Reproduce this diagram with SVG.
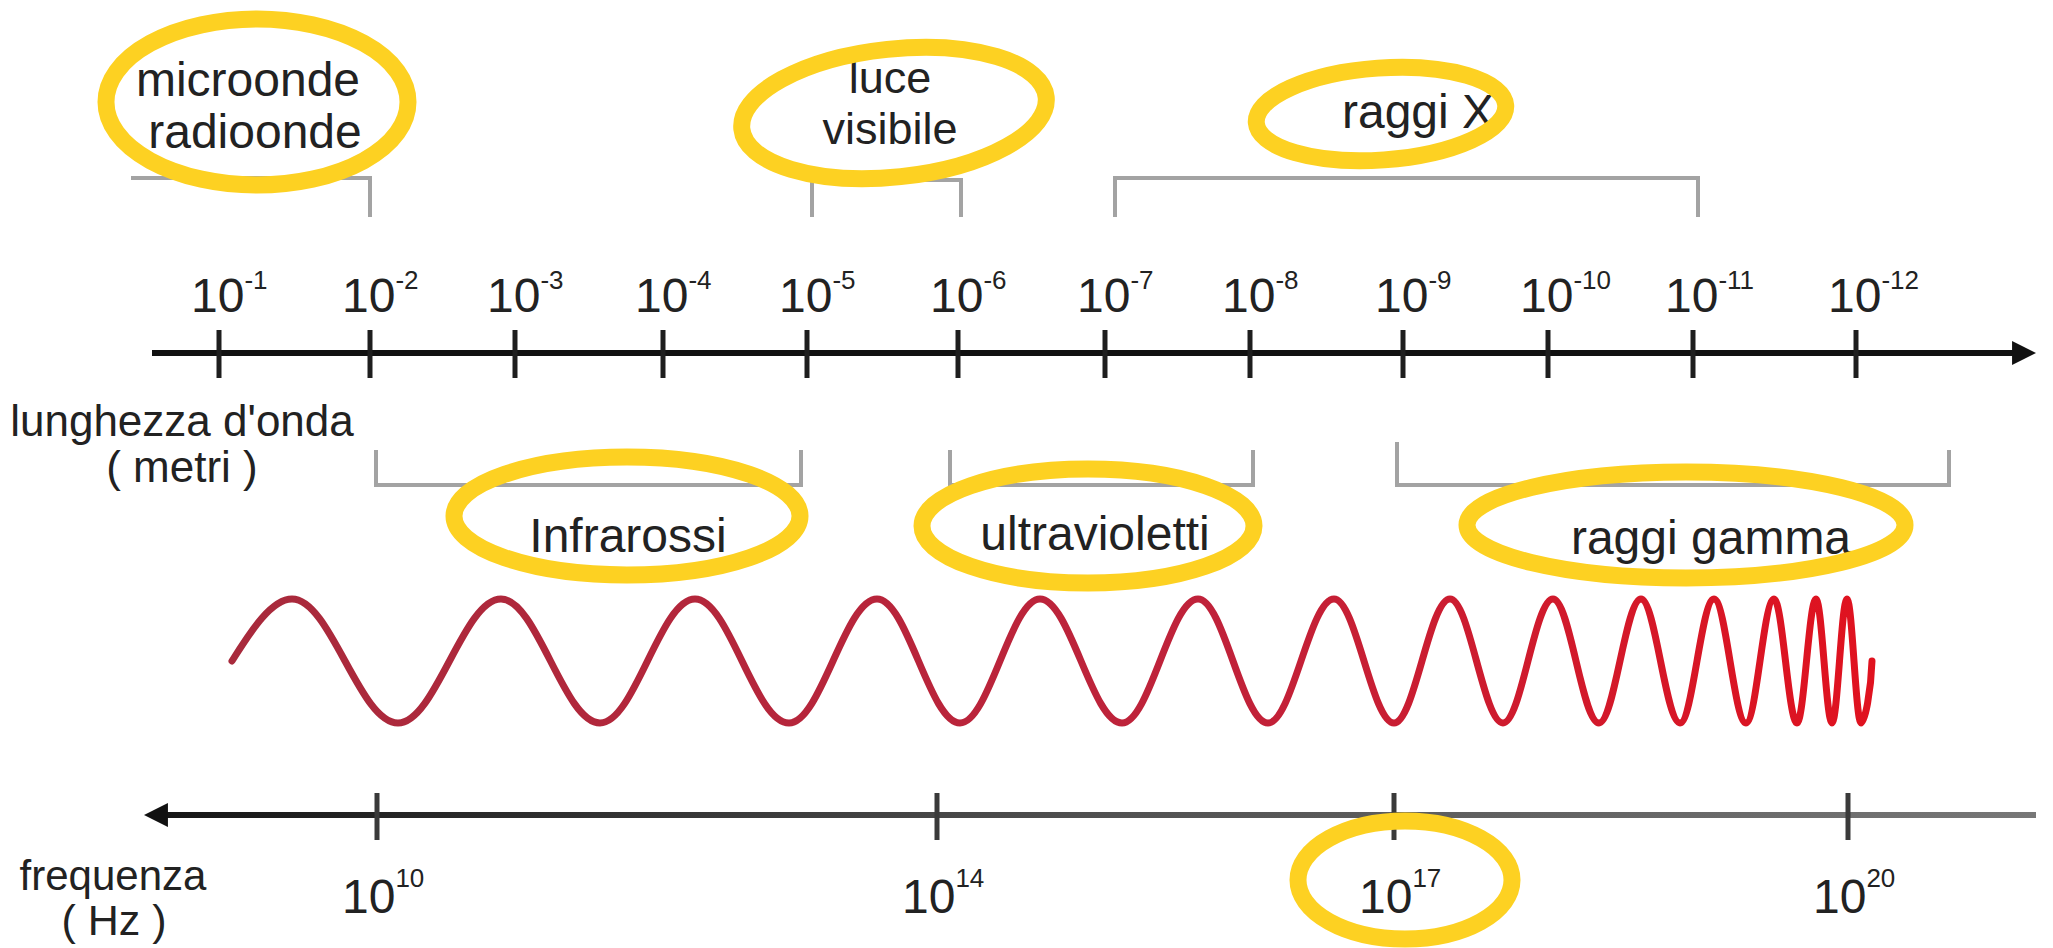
<svg xmlns="http://www.w3.org/2000/svg" width="2053" height="948" viewBox="0 0 2053 948">
<style>
.t{font-family:"Liberation Sans",Arial,sans-serif;fill:#222}
.lbl{font-size:48px}
.sup{font-size:26px}
.mid{text-anchor:middle}
.br{fill:none;stroke:#a3a3a3;stroke-width:4}
.hl{fill:none;stroke:#FDD122;stroke-width:17}
.tk{stroke:#1e1e1e;stroke-width:5}
.tkb{stroke:#3a3a3a;stroke-width:5}
</style>
<defs>
<marker id="arr" viewBox="0 0 10 10" refX="3.3" refY="5" markerWidth="24" markerHeight="24" markerUnits="userSpaceOnUse" orient="auto">
<path d="M0,0 L10,5 L0,10 z" fill="#111"/>
</marker>
<linearGradient id="axg" gradientUnits="userSpaceOnUse" x1="143" y1="0" x2="2036" y2="0">
<stop offset="0" stop-color="#151515"/>
<stop offset="0.5" stop-color="#505050"/>
<stop offset="1" stop-color="#777"/>
</linearGradient>
<linearGradient id="wg" gradientUnits="userSpaceOnUse" x1="232" y1="0" x2="1872" y2="0">
<stop offset="0" stop-color="#a82a3c"/>
<stop offset="0.6" stop-color="#c0223a"/>
<stop offset="1" stop-color="#e0121f"/>
</linearGradient>
</defs>
<rect width="2053" height="948" fill="#fff"/>

<g id="connectors">
<path class="br" d="M131,178 H370 V217"/>
<path class="br" d="M812,217 V180 H961 V217"/>
<path class="br" d="M1115,217 V178 H1698 V217"/>
<path class="br" d="M376,450 V485 H801 V450"/>
<path class="br" d="M950,450 V485 H1253 V450"/>
<path class="br" d="M1397,442 V485 H1949 V450"/>
</g>

<g id="axis-wavelength">
<line x1="152" y1="353" x2="2020" y2="353" stroke="#111" stroke-width="6" marker-end="url(#arr)"/>
<g class="tk">
<line x1="219" y1="330" x2="219" y2="378"/>
<line x1="370" y1="330" x2="370" y2="378"/>
<line x1="515" y1="330" x2="515" y2="378"/>
<line x1="663" y1="330" x2="663" y2="378"/>
<line x1="807" y1="330" x2="807" y2="378"/>
<line x1="958" y1="330" x2="958" y2="378"/>
<line x1="1105" y1="330" x2="1105" y2="378"/>
<line x1="1250" y1="330" x2="1250" y2="378"/>
<line x1="1403" y1="330" x2="1403" y2="378"/>
<line x1="1548" y1="330" x2="1548" y2="378"/>
<line x1="1693" y1="330" x2="1693" y2="378"/>
<line x1="1856" y1="330" x2="1856" y2="378"/>
</g>
<g class="t lbl">
<text x="191" y="312">10<tspan class="sup" dy="-23">-1</tspan></text>
<text x="342" y="312">10<tspan class="sup" dy="-23">-2</tspan></text>
<text x="487" y="312">10<tspan class="sup" dy="-23">-3</tspan></text>
<text x="635" y="312">10<tspan class="sup" dy="-23">-4</tspan></text>
<text x="779" y="312">10<tspan class="sup" dy="-23">-5</tspan></text>
<text x="930" y="312">10<tspan class="sup" dy="-23">-6</tspan></text>
<text x="1077" y="312">10<tspan class="sup" dy="-23">-7</tspan></text>
<text x="1222" y="312">10<tspan class="sup" dy="-23">-8</tspan></text>
<text x="1375" y="312">10<tspan class="sup" dy="-23">-9</tspan></text>
<text x="1520" y="312">10<tspan class="sup" dy="-23">-10</tspan></text>
<text x="1665" y="312">10<tspan class="sup" dy="-23">-11</tspan></text>
<text x="1828" y="312">10<tspan class="sup" dy="-23">-12</tspan></text>
</g>
</g>

<g id="axis-title-wavelength" class="t">
<text class="mid" x="182" y="436" font-size="44">lunghezza d'onda</text>
<text class="mid" x="182" y="482" font-size="44">( metri )</text>
</g>

<g id="wave">
<path fill="none" stroke="url(#wg)" stroke-width="7" stroke-linejoin="round" stroke-linecap="round" d="M232,661 C252,629 272,599 292,599 C330.6,599 359.4,723 398,723 C435.5,723 463.5,599 501,599 C537,599 564,723 600,723 C634.6,723 660.4,599 695,599 C729.2,599 754.8,723 789,723 C821,723 845,599 877,599 C907.2,599 929.8,723 960,723 C989.1,723 1010.9,599 1040,599 C1069.8,599 1092.2,723 1122,723 C1149.7,723 1170.3,599 1198,599 C1223.5,599 1242.5,723 1268,723 C1292,723 1310,599 1334,599 C1355.8,599 1372.2,723 1394,723 C1414.4,723 1429.6,599 1450,599 C1469.3,599 1483.7,723 1503,723 C1521.2,723 1534.8,599 1553,599 C1569.7,599 1582.3,723 1599,723 C1614.3,723 1625.7,599 1641,599 C1655.2,599 1665.8,723 1680,723 C1692.4,723 1701.6,599 1714,599 C1725.6,599 1734.4,723 1746,723 C1756.2,723 1763.8,599 1774,599 C1782.4,599 1788.6,723 1797,723 C1803.9,723 1809.1,599 1816,599 C1821.8,599 1826.2,723 1832,723 C1837.5,723 1841.5,599 1847,599 C1852.1,599 1855.9,723 1861,723 C1865,723 1871,690 1872,661"/>
</g>

<g id="axis-frequency">
<line x1="2036" y1="815" x2="160" y2="815" stroke="url(#axg)" stroke-width="6" marker-end="url(#arr)"/>
<g class="tkb">
<line x1="377" y1="793" x2="377" y2="840"/>
<line x1="937" y1="793" x2="937" y2="840"/>
<line x1="1394" y1="793" x2="1394" y2="840"/>
<line x1="1848" y1="793" x2="1848" y2="840"/>
</g>
<g class="t lbl">
<text x="342" y="913">10<tspan class="sup" dy="-26">10</tspan></text>
<text x="902" y="913">10<tspan class="sup" dy="-26">14</tspan></text>
<text x="1359" y="913">10<tspan class="sup" dy="-26">17</tspan></text>
<text x="1813" y="913">10<tspan class="sup" dy="-26">20</tspan></text>
</g>
</g>

<g id="axis-title-frequency" class="t">
<text class="mid" x="113" y="890" font-size="42">frequenza</text>
<text class="mid" x="114" y="935" font-size="43">( Hz )</text>
</g>

<g id="band-microonde" class="t lbl">
<text class="mid" x="248" y="96">microonde</text>
<text class="mid" x="255" y="148">radioonde</text>
</g>
<g id="band-luce" class="t" font-size="45">
<text class="mid" x="890" y="93">luce</text>
<text class="mid" x="890" y="144">visibile</text>
</g>
<g id="band-raggix" class="t lbl">
<text class="mid" x="1418" y="128">raggi X</text>
</g>
<g id="band-infrarossi" class="t lbl">
<text class="mid" x="628" y="552">Infrarossi</text>
</g>
<g id="band-ultravioletti" class="t lbl">
<text class="mid" x="1095" y="550">ultravioletti</text>
</g>
<g id="band-gamma" class="t lbl">
<text class="mid" x="1711" y="554">raggi gamma</text>
</g>

<g id="highlights">
<ellipse class="hl" cx="257" cy="102" rx="151" ry="83"/>
<ellipse class="hl" cx="894" cy="113" rx="153" ry="64" transform="rotate(-6 894 113)"/>
<ellipse class="hl" cx="1381" cy="114" rx="125" ry="46" transform="rotate(-4 1381 114)"/>
<ellipse class="hl" cx="627" cy="516" rx="173" ry="59"/>
<ellipse class="hl" cx="1088" cy="526" rx="166" ry="57"/>
<ellipse class="hl" cx="1686" cy="525" rx="219" ry="53"/>
<ellipse class="hl" cx="1405" cy="880" rx="107" ry="59"/>
</g>
</svg>
